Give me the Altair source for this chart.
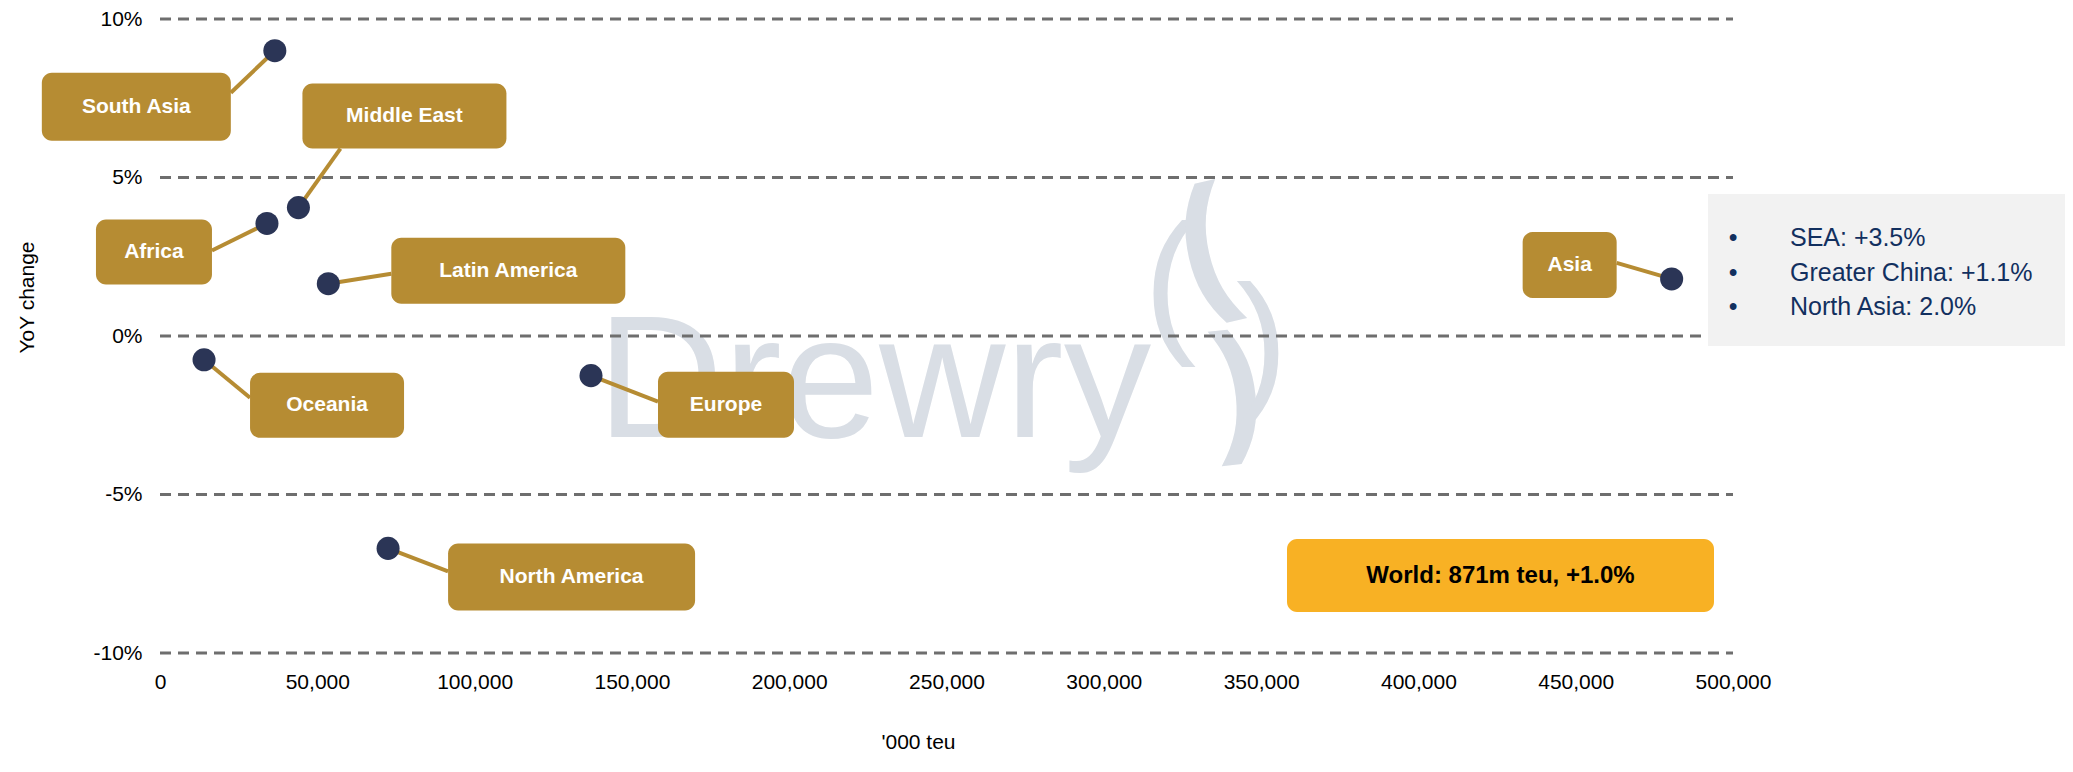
import altair as alt
import pandas as pd

# ---------------- data ----------------
regions = ["South Asia", "Middle East", "Africa", "Latin America",
           "Oceania", "Europe", "North America", "Asia"]
volume = [36500, 44000, 34000, 53500, 14000, 137000, 72500, 480500]   # '000 teu
yoy = [9.0, 4.05, 3.55, 1.65, -0.75, -1.25, -6.7, 1.8]                # YoY change, %

x_ticks = list(range(0, 500001, 50000))
y_ticks = [-10, -5, 0, 5, 10]

world_label = "World: 871m teu, +1.0%"
asia_breakdown = ["SEA: +3.5%", "Greater China: +1.1%", "North Asia: 2.0%"]
watermark_word = "Drewry"

# ---------------- layout (pixels) ----------------
W, H = 1573, 634
XMAX = 500000
YMIN, YMAX = -10, 10
KX = XMAX / W                 # data units per px (x)
KY = (YMAX - YMIN) / H        # data units per px (y)
TOP = 11                      # top padding; plot px = page px - 8 - TOP


def dxp(p):   # plot px -> x data
    return p * KX


def dyp(p):   # plot px (from top) -> y data
    return YMAX - p * KY


# label box relative to its point: (left, top, right, bottom) and leader attach point
label_layout = {
    "South Asia":    ((-233, 22, -44, 90), (-44, 42)),
    "Middle East":   ((4, -124, 208, -59), (42, -59)),
    "Africa":        ((-171, -4, -55, 61), (-55, 27)),
    "Latin America": ((63, -46, 297, 20), (63, -10)),
    "Oceania":       ((46, 13, 200, 78), (46, 38)),
    "Europe":        ((67, -4, 203, 62), (67, 26)),
    "North America": ((60, -5, 307, 62), (60, 23)),
    "Asia":          ((-149, -47, -55, 19), (-55, -16)),
}

GOLD = "#B68C33"
NAVY = "#2B3556"
GRID = "#6E6E6E"
WM = "#D9DEE5"
FONT = "Liberation Sans"

pts = pd.DataFrame({"region": regions, "x": volume, "y": yoy})

rows = []
for r, xv, yv in zip(regions, volume, yoy):
    (l, t, rr, b), (ax, ay) = label_layout[r]
    rows.append({
        "region": r,
        "px": xv, "py": yv,
        "x1": xv + l * KX, "x2": xv + rr * KX,
        "y1": yv - t * KY, "y2": yv - b * KY,
        "xc": xv + (l + rr) / 2 * KX, "yc": yv - (t + b) / 2 * KY,
        "ax": xv + ax * KX, "ay": yv - ay * KY,
    })
boxes = pd.DataFrame(rows)

XS = alt.Scale(domain=[0, XMAX], nice=False, zero=False)
YS = alt.Scale(domain=[YMIN, YMAX], nice=False, zero=False)

X_AX = alt.Axis(values=x_ticks, format=",d", grid=False, domain=False, ticks=False,
                tickSize=0, labelFontSize=21, labelFont=FONT, labelColor="#000000",
                labelPadding=18, labelFlush=False, labelOverlap=False,
                title="'000 teu", titleFont=FONT, titleFontSize=21,
                titleFontWeight="normal", titleColor="#000000",
                titleX=758, titleY=95, titleAlign="center", titleBaseline="alphabetic")
Y_AX = alt.Axis(values=y_ticks, labelExpr="datum.value + '%'", grid=False, domain=False,
                ticks=False, tickSize=0, labelFontSize=21, labelFont=FONT,
                labelColor="#000000", labelPadding=18,
                title="YoY change", titleFont=FONT, titleFontSize=21,
                titleFontWeight="normal", titleColor="#000000", titleAngle=270,
                titleX=-127, titleY=278, titleAlign="center", titleBaseline="alphabetic")


def X(f):
    return alt.X(f, type="quantitative", scale=XS, axis=X_AX)


def Y(f):
    return alt.Y(f, type="quantitative", scale=YS, axis=Y_AX)


# ---------------- watermark ----------------
wm_text = pd.DataFrame({"t": [watermark_word], "x": [dxp(437)], "y": [dyp(418)]})
watermark = alt.Chart(wm_text).mark_text(
    font=FONT, fontSize=175, color=WM, align="left", baseline="alphabetic"
).encode(x=X("x"), y=Y("y"), text="t:N")

flame_parts = [  # glyph, plot-px centre, size, angle, weight
    ("(", 1010, 268, 158, 0, "normal"),
    ("(", 1045, 229, 153, 347, "bold"),
    (")", 1078, 371, 145, 354, "bold"),
    (")", 1102, 328, 156, 0, "normal"),
]
flame_layers = []
for g, fx, fy, fs, fa, fw in flame_parts:
    d = pd.DataFrame({"t": [g], "x": [dxp(fx)], "y": [dyp(fy)]})
    flame_layers.append(
        alt.Chart(d).mark_text(font=FONT, fontSize=fs, fontWeight=fw, angle=fa,
                               color=WM, align="center", baseline="middle")
        .encode(x=X("x"), y=Y("y"), text="t:N")
    )

# ---------------- grid ----------------
grid = alt.Chart(pd.DataFrame({"v": y_ticks})).mark_rule(
    color=GRID, strokeWidth=3, strokeDash=[11, 7]
).encode(y=Y("v"), x=alt.value(0), x2=alt.value(W))

# ---------------- leaders, boxes, labels, points ----------------
leaders = alt.Chart(boxes).mark_rule(color=GOLD, strokeWidth=4).encode(
    x=X("px"), y=Y("py"), x2="ax:Q", y2="ay:Q")

rects = alt.Chart(boxes).mark_rect(color=GOLD, cornerRadius=10).encode(
    x=X("x1"), x2="x2:Q", y=Y("y1"), y2="y2:Q")

labels = alt.Chart(boxes).mark_text(
    font=FONT, fontSize=21, fontWeight="bold", color="white",
    align="center", baseline="middle"
).encode(x=X("xc"), y=Y("yc"), text="region:N")

points = alt.Chart(pts).mark_circle(size=531, color=NAVY, opacity=1).encode(
    x=X("x"), y=Y("y"))

# ---------------- world box ----------------
world = pd.DataFrame({"t": [world_label],
                      "x1": [dxp(1127)], "x2": [dxp(1554)],
                      "y1": [dyp(520)], "y2": [dyp(593)],
                      "xc": [dxp(1340.5)], "yc": [dyp(556.5)]})
world_rect = alt.Chart(world).mark_rect(color="#F8B124", cornerRadius=10).encode(
    x=X("x1"), x2="x2:Q", y=Y("y1"), y2="y2:Q")
world_text = alt.Chart(world).mark_text(
    font=FONT, fontSize=24, fontWeight="bold", color="#000000",
    align="center", baseline="middle"
).encode(x=X("xc"), y=Y("yc"), text="t:N")

# ---------------- Asia breakdown box ----------------
info_box = pd.DataFrame({"x1": [dxp(1548)], "x2": [dxp(1907)],
                         "y1": [dyp(175)], "y2": [dyp(327)]})
info_rect = alt.Chart(info_box).mark_rect(color="#F2F2F2").encode(
    x=X("x1"), x2="x2:Q", y=Y("y1"), y2="y2:Q")
line_base = [227, 261.7, 296.3]
info_df = pd.DataFrame({"t": asia_breakdown, "b": ["•"] * 3,
                        "xb": [dxp(1573)] * 3, "xt": [dxp(1630)] * 3,
                        "y": [dyp(v) for v in line_base]})
info_bullets = alt.Chart(info_df).mark_text(
    font=FONT, fontSize=25, color="#12305F", align="center", baseline="alphabetic"
).encode(x=X("xb"), y=Y("y"), text="b:N")
info_text = alt.Chart(info_df).mark_text(
    font=FONT, fontSize=25, color="#12305F", align="left", baseline="alphabetic"
).encode(x=X("xt"), y=Y("y"), text="t:N")

chart = alt.layer(
    watermark, *flame_layers, grid, leaders, rects, labels, points,
    world_rect, world_text, info_rect, info_bullets, info_text
).properties(
    width=W, height=H,
    autosize=alt.AutoSizeParams(type="none"),
    padding={"left": 152, "top": TOP, "right": 332, "bottom": 103},
    background="white",
).configure_view(stroke=None)

chart.save("out.html", embed_options={"renderer": "svg", "actions": False})
